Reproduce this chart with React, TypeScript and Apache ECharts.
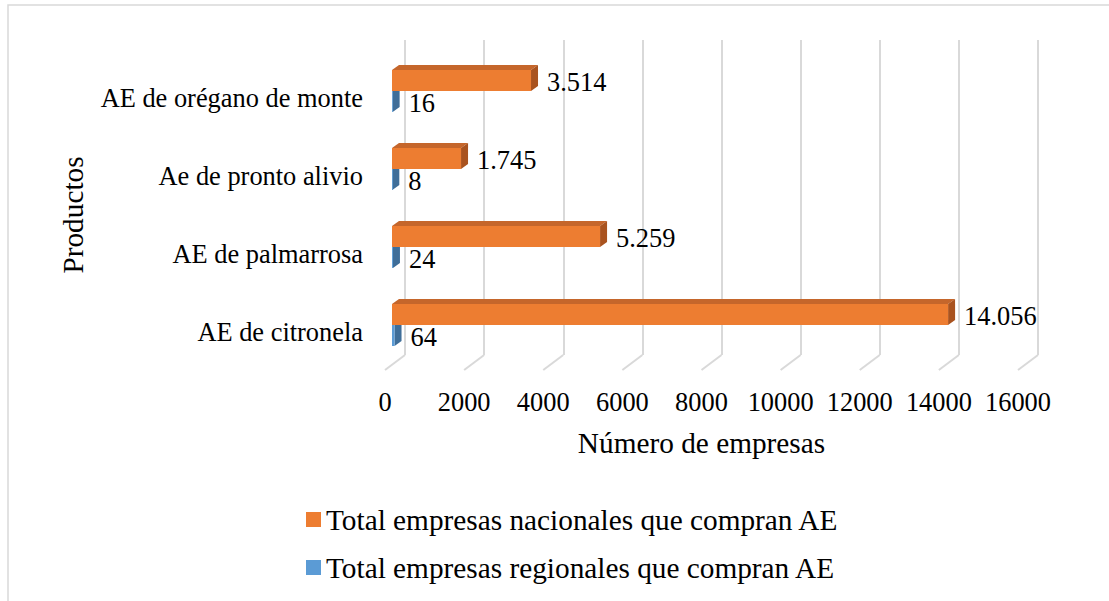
import React, { useEffect, useRef } from "react";
import * as echarts from "echarts";

// Products, listed top to bottom
const productos = [
  "AE de orégano de monte",
  "Ae de pronto alivio",
  "AE de palmarrosa",
  "AE de citronela",
];
const nacionales = [3514, 1745, 5259, 14056];
const regionales = [16, 8, 24, 64];
const ejeTicks = [0, 2000, 4000, 6000, 8000, 10000, 12000, 14000, 16000];

const NAME_NAC = "Total empresas nacionales que compran AE";
const NAME_REG = "Total empresas regionales que compran AE";

const FONT = "Liberation Serif";
const FS = 26.4; // tick, category and value labels
const FS_TITLE = 29.3; // axis titles and legend
const ORANGE = { front: "#ED7D31", top: "#C5662B", side: "#A9531F" };
const BLUE = { front: "#5B9BD5", top: "#4A7FB0", side: "#3F6E99" };

// oblique 3D look: depth offset of a bar and its thickness
const DX = 7;
const DY = -5;
const BAR_H = 21;

const fmt = (v: number) => String(v).replace(/\B(?=(\d{3})+(?!\d))/g, ".");

function barRenderer(side: number, colors: { front: string; top: string; side: string }) {
  return (params: any, api: any) => {
    const cat = api.value(0);
    const v = api.value(1);
    const base = api.coord([0, cat]);
    const end = api.coord([v, cat]);
    const yc = base[1] + (side * BAR_H) / 2;
    const top = yc - BAR_H / 2;
    const bot = yc + BAR_H / 2;
    const x0 = base[0];
    const x1 = end[0];
    return {
      type: "group",
      children: [
        {
          type: "polygon",
          shape: { points: [[x0, top], [x1, top], [x1 + DX, top + DY], [x0 + DX, top + DY]] },
          style: { fill: colors.top },
        },
        {
          type: "polygon",
          shape: { points: [[x1, top], [x1 + DX, top + DY], [x1 + DX, bot + DY], [x1, bot]] },
          style: { fill: colors.side },
        },
        {
          type: "rect",
          shape: { x: x0, y: top, width: Math.max(x1 - x0, 0.8), height: BAR_H },
          style: { fill: colors.front },
        },
        {
          type: "text",
          x: x1 + DX + 9,
          y: yc + 1,
          style: {
            text: fmt(v),
            fontFamily: FONT,
            fontSize: FS,
            fill: "#000",
            verticalAlign: "middle",
            align: "left",
          },
        },
      ],
    };
  };
}

const labelStyle = { fontFamily: FONT, fontSize: FS, color: "#000" };
const titleStyle = { fontFamily: FONT, fontSize: FS_TITLE, color: "#000" };

export default function App() {
  const ref = useRef<HTMLDivElement>(null);

  useEffect(() => {
    if (!ref.current) return;
    const chart = echarts.init(ref.current, undefined, { renderer: "svg" });
    const idx = productos.map((_, i) => i);

    chart.setOption({
      animation: false,
      backgroundColor: "#fff",
      textStyle: { fontFamily: FONT },
      graphic: [
        {
          type: "rect",
          shape: { x: 8, y: 5, width: 1120, height: 620 },
          style: { fill: "none", stroke: "#D9D9D9", lineWidth: 1.5 },
          silent: true,
        },
      ],
      legend: {
        data: [NAME_NAC, NAME_REG],
        orient: "vertical",
        left: 301,
        top: 500,
        itemGap: 19,
        itemWidth: 15,
        itemHeight: 15,
        icon: "rect",
        textStyle: titleStyle,
      },
      grid: [
        // bar plane
        { left: 392, width: 633, top: 52, height: 312 },
        // back wall
        { left: 405, width: 633, top: 40, height: 315 },
        // front floor edge, carries labels
        { left: 385, width: 633, top: 59, height: 312 },
      ],
      xAxis: [
        { gridIndex: 0, type: "value", min: 0, max: 16000, show: false },
        {
          gridIndex: 1,
          type: "value",
          min: 0,
          max: 16000,
          interval: 2000,
          axisLine: { show: false },
          axisTick: { show: false },
          axisLabel: { show: false },
          splitLine: { show: true, lineStyle: { color: "#D9D9D9", width: 2 } },
        },
        {
          gridIndex: 2,
          type: "value",
          min: 0,
          max: 16000,
          interval: 2000,
          axisLine: { show: false },
          axisTick: { show: false },
          splitLine: { show: false },
          axisLabel: { ...labelStyle, margin: 18, formatter: (v: number) => String(v) },
          name: "Número de empresas",
          nameLocation: "middle",
          nameGap: 57,
          nameTextStyle: titleStyle,
        },
      ],
      yAxis: [
        { gridIndex: 0, type: "category", data: productos, inverse: true, show: false },
        { gridIndex: 1, type: "value", min: 0, max: 1, show: false },
        {
          gridIndex: 2,
          type: "category",
          data: productos,
          inverse: true,
          axisLine: { show: false },
          axisTick: { show: false },
          axisLabel: { ...labelStyle, margin: 22 },
          name: "Productos",
          nameLocation: "middle",
          nameGap: 298,
          nameRotate: 90,
          nameTextStyle: titleStyle,
        },
      ],
      series: [
        {
          name: "floor",
          type: "custom",
          xAxisIndex: 1,
          yAxisIndex: 1,
          silent: true,
          z: 1,
          data: ejeTicks.map((t) => [t, 0]),
          renderItem: (params: any, api: any) => {
            const p = api.coord([api.value(0), 0]);
            return {
              type: "line",
              shape: { x1: p[0], y1: p[1], x2: p[0] - 20, y2: p[1] + 15 },
              style: { stroke: "#D9D9D9", lineWidth: 2 },
            };
          },
        },
        {
          name: NAME_REG,
          type: "custom",
          xAxisIndex: 0,
          yAxisIndex: 0,
          z: 3,
          itemStyle: { color: BLUE.front },
          encode: { x: 1, y: 0 },
          data: idx.map((i) => [i, regionales[i]]),
          renderItem: barRenderer(1, BLUE),
        },
        {
          name: NAME_NAC,
          type: "custom",
          xAxisIndex: 0,
          yAxisIndex: 0,
          z: 4,
          itemStyle: { color: ORANGE.front },
          encode: { x: 1, y: 0 },
          data: idx.map((i) => [i, nacionales[i]]),
          renderItem: barRenderer(-1, ORANGE),
        },
      ],
    });

    return () => chart.dispose();
  }, []);

  return (
    <div
      ref={ref}
      style={{ position: "fixed", left: 0, top: 0, width: 1109, height: 601 }}
    />
  );
}
